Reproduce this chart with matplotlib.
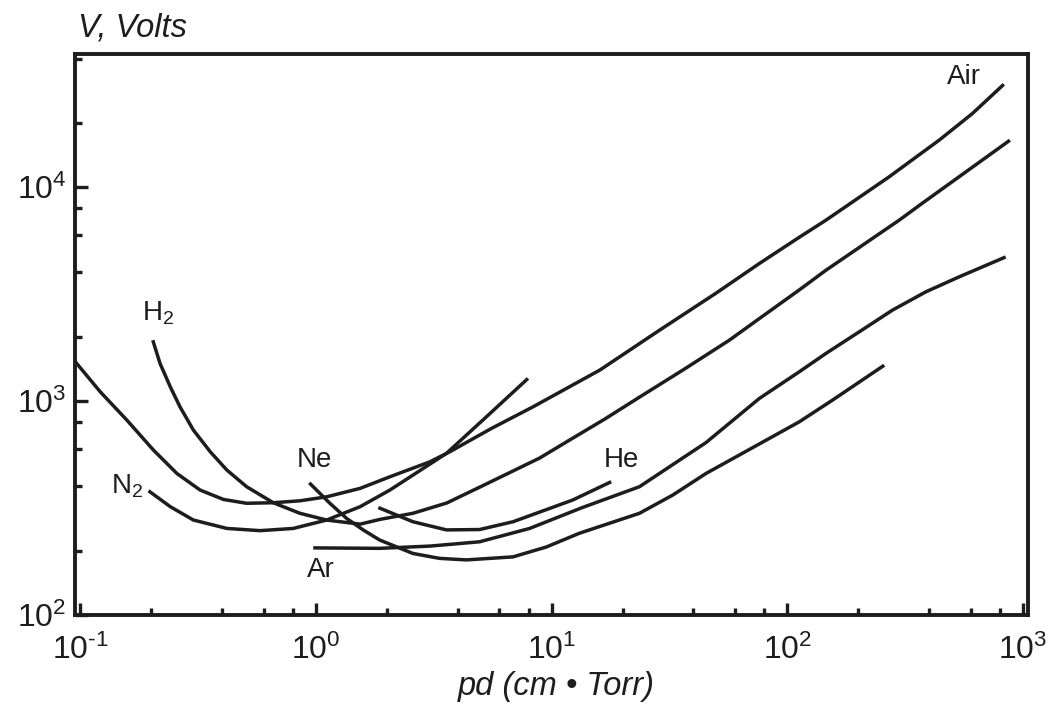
import matplotlib

matplotlib.use("Agg")
import matplotlib.pyplot as plt
from matplotlib.ticker import FixedLocator, FixedFormatter, NullFormatter

plt.rcParams["font.family"] = ["Liberation Sans", "DejaVu Sans"]
plt.rcParams["mathtext.fontset"] = "custom"
plt.rcParams["mathtext.rm"] = "Liberation Sans"
plt.rcParams["mathtext.it"] = "Liberation Sans:italic"

# breakdown voltage vs pd, read per gas (pd in cm*Torr, V in volts)
AIR_PD = [0.0953, 0.1216, 0.1577, 0.2045, 0.257, 0.3224, 0.405, 0.508, 0.659,
          0.855, 1.11, 1.54, 2.06, 3.04, 3.7, 5.55, 8.33, 16, 28.7, 49.9,
          76.1, 112, 145.9, 270, 441, 610, 830]
AIR_V = [1527, 1105, 815, 590, 459, 384, 347, 333, 335,
         342, 357, 391, 443, 520, 580, 745, 940, 1396, 2146, 3200,
         4400, 5820, 7015, 11170, 16600, 22100, 30300]

H2_PD = [0.203, 0.218, 0.241, 0.265, 0.302, 0.356, 0.419, 0.508, 0.659, 0.855,
         1.11, 1.54, 1.87, 2.58, 3.59, 4.95, 8.9, 11.9, 16.8, 23.6, 36.6,
         56.8, 76.1, 112, 145.9, 298.4, 373, 881]
H2_V = [1928, 1500, 1166, 940, 732, 580, 476, 398, 335, 299,
        278, 266, 280, 299, 334, 396, 542, 657, 824, 1044, 1412,
        1928, 2432, 3300, 4093, 7015, 8400, 16600]

N2_PD = [0.1948, 0.241, 0.302, 0.419, 0.579, 0.801, 1.11, 1.54, 2.06, 3.58,
         5.29, 7.94]
N2_V = [381, 321, 278, 254, 248, 254, 278, 321, 384, 570, 845, 1277]

NE_PD = [0.937, 1.146, 1.349, 1.586, 1.867, 2.58, 3.35, 4.35, 6.86, 9.5, 13.1,
         23.6, 32.7, 45.2, 112.4, 155.6, 258]
NE_V = [415, 333, 283, 250, 224, 194, 184, 181, 187, 208, 241,
        299, 364, 459, 800, 1011, 1472]

AR_PD = [0.974, 1.867, 3.04, 4.95, 8.07, 13.5, 23.6, 45.2, 76.1, 112.4, 145.9,
         201.9, 279.4, 387, 535.6, 845]
AR_V = [206, 205, 210, 220, 254, 318, 398, 640, 1029, 1371, 1671,
        2108, 2663, 3243, 3810, 4723]

HE_PD = [1.84, 2.58, 3.58, 4.95, 6.86, 9.2, 12.3, 17.9]
HE_V = [318, 273, 250, 251, 273, 307, 345, 420]

CURVES = [(AIR_PD, AIR_V), (H2_PD, H2_V), (N2_PD, N2_V),
          (NE_PD, NE_V), (AR_PD, AR_V), (HE_PD, HE_V)]

# gas names and where they sit on the plot
GAS_LABELS = ["Air", r"$\mathregular{H_2}$", r"$\mathregular{N_2}$", "Ne", "Ar", "He"]
LABEL_PD = [562, 0.213, 0.158, 0.99, 1.05, 19.8]
LABEL_V = [32700, 2580, 400, 530, 162, 530]

X_MAJOR = [0.1, 1, 10, 100, 1000]
X_TICKLABELS = [r"$\mathregular{10^{\text{-}1}}$", r"$\mathregular{10^{0}}$",
                r"$\mathregular{10^{1}}$", r"$\mathregular{10^{2}}$",
                r"$\mathregular{10^{3}}$"]
Y_MAJOR = [100, 1000, 10000]
Y_TICKLABELS = [r"$\mathregular{10^{2}}$", r"$\mathregular{10^{3}}$",
                r"$\mathregular{10^{4}}$"]
MINOR_SUBS = [2, 4, 6, 8]

INK = "#1f1c1d"

fig = plt.figure(figsize=(10.51, 7.04), dpi=100)
ax = fig.add_axes([0.0714, 0.1264, 0.9066, 0.7969])
ax.set_xscale("log")
ax.set_yscale("log")
ax.set_xlim(0.095, 1050)
ax.set_ylim(100, 42000)

for pd_vals, volts in CURVES:
    ax.plot(pd_vals, volts, color=INK, lw=2.5, solid_capstyle="butt",
            solid_joinstyle="round")

for text, px, py in zip(GAS_LABELS, LABEL_PD, LABEL_V):
    ax.text(px, py, text, fontsize=20, ha="center", va="center", color=INK)

x_minor = [m * d for d in [0.1, 1, 10, 100] for m in MINOR_SUBS]
y_minor = [m * d for d in [100, 1000, 10000] for m in MINOR_SUBS]
ax.xaxis.set_major_locator(FixedLocator(X_MAJOR))
ax.xaxis.set_major_formatter(FixedFormatter(X_TICKLABELS))
ax.xaxis.set_minor_locator(FixedLocator(x_minor))
ax.xaxis.set_minor_formatter(NullFormatter())
ax.yaxis.set_major_locator(FixedLocator(Y_MAJOR))
ax.yaxis.set_major_formatter(FixedFormatter(Y_TICKLABELS))
ax.yaxis.set_minor_locator(FixedLocator(y_minor))
ax.yaxis.set_minor_formatter(NullFormatter())

ax.tick_params(which="both", direction="in", top=False, right=False,
               color=INK, width=2.4)
ax.tick_params(which="major", length=9, labelsize=23, labelcolor=INK)
ax.tick_params(axis="x", which="major", pad=14)
ax.tick_params(axis="y", which="major", pad=6)
ax.tick_params(which="minor", length=5)
for spine in ax.spines.values():
    spine.set_linewidth(2.8)
    spine.set_color(INK)

fig.text(0.529, 0.025, "pd (cm \u2022 Torr)", fontsize=23.5, style="italic",
         color=INK, ha="center", va="center")
fig.text(0.074, 0.96, "V, Volts", fontsize=23.5, style="italic", color=INK,
         ha="left", va="center")

fig.savefig("out.png", dpi=100)
